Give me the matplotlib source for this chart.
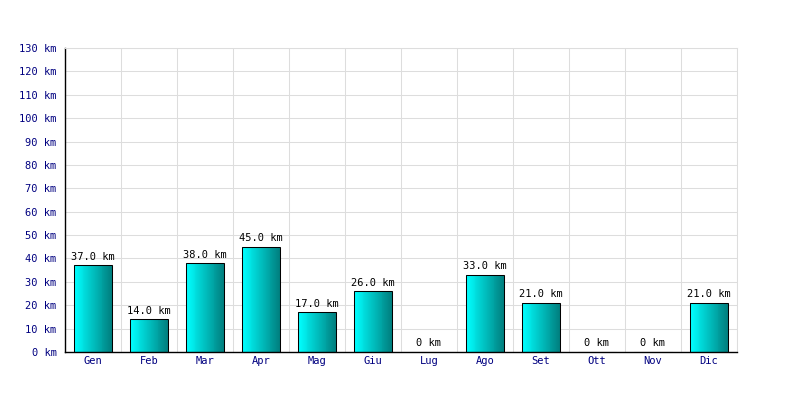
import numpy as np
import matplotlib
matplotlib.use("Agg")
import matplotlib.pyplot as plt
from matplotlib.colors import LinearSegmentedColormap

months = ["Gen", "Feb", "Mar", "Apr", "Mag", "Giu", "Lug", "Ago", "Set", "Ott", "Nov", "Dic"]
values = [37.0, 14.0, 38.0, 45.0, 17.0, 26.0, 0, 33.0, 21.0, 0, 0, 21.0]
yticks = list(range(0, 131, 10))
ytick_labels = [f"{v} km" for v in yticks]

plt.rcParams['font.family'] = ['DejaVu Sans Mono']
fig = plt.figure(figsize=(8, 4), dpi=100)
ax = fig.add_axes([65/800, 48/400, 672/800, 304/400])

x = np.arange(len(months))
width = 0.68
cmap = LinearSegmentedColormap.from_list("g", ["#00ffff", "#008080"])
nslice = 40
sw = width / nslice
for i in range(nslice):
    off = -width / 2 + (i + 0.5) * sw
    ax.bar(x + off, values, width=sw * 1.05, color=cmap(i / (nslice - 1)),
           linewidth=0, zorder=2)
bars = ax.bar(x, values, width=width, color='none', edgecolor='black', linewidth=0.75, zorder=3)

for xi, v in zip(x, values):
    lbl = f"{v:.1f} km" if v > 0 else "0 km"
    ax.text(xi, v + 1.5, lbl, ha='center', va='bottom', fontsize=7.5, color='black', zorder=4)

ax.set_xlim(-0.5, len(months) - 0.5)
ax.set_ylim(0, 130)
ax.set_yticks(yticks)
ax.set_yticklabels(ytick_labels, color='#000080', fontsize=7.5)
ax.set_xticks(x)
ax.set_xticklabels(months, color='#000080', fontsize=7.5)
ax.set_xticks(np.arange(-0.5, len(months), 1), minor=True)
ax.tick_params(axis='both', which='both', length=0)
ax.tick_params(axis='y', pad=6)
ax.tick_params(axis='x', pad=3)
ax.grid(True, axis='y', which='major', color='#dddddd', linewidth=0.75, zorder=0)
ax.grid(True, axis='x', which='minor', color='#dddddd', linewidth=0.75, zorder=0)
ax.set_axisbelow(True)
for s in ['top', 'right']:
    ax.spines[s].set_color('#dddddd')
    ax.spines[s].set_linewidth(0.75)
for s in ['left', 'bottom']:
    ax.spines[s].set_color('black')
    ax.spines[s].set_linewidth(1)

fig.savefig("out.png", dpi=100)
